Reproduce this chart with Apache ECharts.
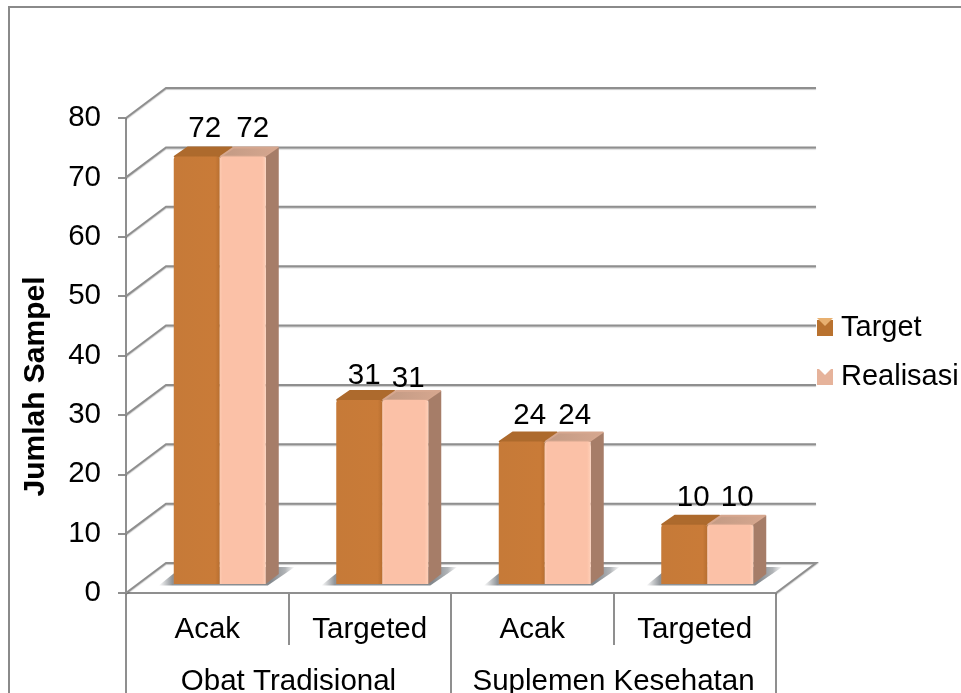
<!DOCTYPE html>
<html><head><meta charset="utf-8">
<style>html,body{margin:0;padding:0;background:#fff}#c{width:961px;height:693px}</style>
<script src="https://cdn.jsdelivr.net/npm/echarts@6/dist/echarts.min.js"></script>
</head><body><div id="c"></div>
<script>
const categories = ['Acak','Targeted','Acak','Targeted'];
const groups = ['Obat Tradisional','Suplemen Kesehatan'];
const target = [72,31,24,10];
const realisasi = [72,31,24,10];
const yTicks = [0,10,20,30,40,50,60,70,80];

const FONT = '"Liberation Sans", Arial, sans-serif';
const FS = 29.5;
const GRAY = '#8f8f8f';
const WALL = [40,-30];      // chart depth
const BAR_FRONT = [12.5,-9];  // bar front face inset from the front plane
const BAR_DEPTH = [13,-10]; // bar's own depth
const BAR_RATIO = 46/162.5;
const LABEL_SHIFT = [
  [[8,-28],[5,-24],[8,-26],[9,-27]],
  [[10,-28],[3,-21],[7,-26],[7,-27]]
];

const skins = [
 {front:[['#c67a38',0],['#c97b38',.9],['#b86f30',1]], top:'#ad6a2d', side:'#a06028'},
 {front:[['#fdcbb2',0],['#fbc1a7',.06],['#fbc1a7',.92],['#ffd0b8',1]], top:['#c29a84','#d6a78f'], side:'#a67d68'}
];
function hGrad(stops){return {type:'linear',x:0,y:0,x2:1,y2:0,colorStops:stops.map(s=>({offset:s[1],color:s[0]}))};}

function wallItem(params, api){
  const v = api.value(0);
  const g = params.coordSys;
  const y = api.coord([0,v])[1];
  const L = g.x, R = g.x+g.width;
  const style = {stroke:GRAY,lineWidth:2,fill:null,shadowColor:'rgba(0,0,0,.22)',shadowBlur:1,shadowOffsetY:1};
  const pts = [[L,y],[L+WALL[0],y+WALL[1]],[R+WALL[0],y+WALL[1]]];
  if (v===0) pts.push([R,y]);
  return {type:'polyline',shape:{points:pts},style};
}

function barItem(si){
  return function(params, api){
    const cat = api.value(0), v = api.value(1);
    const band = api.size([1,0])[0];
    const w = band*BAR_RATIO;
    const c0 = api.coord([cat,0]), c1 = api.coord([cat,v]);
    const x0 = c0[0]+BAR_FRONT[0]-w+si*w, x1 = x0+w;
    const yb = c0[1]+BAR_FRONT[1], yt = c1[1]+BAR_FRONT[1];
    const d = BAR_DEPTH, s = skins[si], ch = [];
    if (si===0){
      const sg = 'rgba(125,130,135,';
      ch.push({type:'polygon',z2:1,shape:{points:[[x0-15,yb+1.5],[x0+2*w+2,yb+1.5],[x0+2*w+d[0]+16,yb-17],[x0+8,yb-17]]},
        style:{fill:{type:'linear',x:0,y:0,x2:1,y2:0,colorStops:[
          {offset:0,color:sg+'0)'},{offset:.1,color:sg+'.85)'},{offset:.82,color:sg+'.95)'},{offset:.93,color:sg+'.6)'},{offset:1,color:sg+'0)'}]}}});
    }
    const topFill = Array.isArray(s.top)?hGrad([[s.top[0],0],[s.top[1],1]]):s.top;
    const topStroke = Array.isArray(s.top)?s.top[1]:s.top;
    ch.push({type:'polygon',z2:2,shape:{points:[[x0+1,yt],[x0+d[0]+1,yt+d[1]+1],[x1+d[0]-1,yt+d[1]+1],[x1,yt]]},
      style:{fill:topFill,stroke:topStroke,lineWidth:2,lineJoin:'round'}});
    ch.push({type:'polygon',z2:2,shape:{points:[[x1,yt],[x1+d[0],yt+d[1]+1],[x1+d[0],yb+d[1]],[x1,yb]]},style:{fill:s.side}});
    ch.push({type:'rect',z2:3,shape:{x:x0,y:yt,width:w,height:yb-yt,r:[3,3,0,0]},style:{fill:hGrad(s.front)}});
    const o = LABEL_SHIFT[si][params.dataIndex];
    ch.push({type:'text',z2:5,style:{text:String(v),x:(x0+x1)/2+o[0],y:yt+o[1],
      align:'center',verticalAlign:'middle',font:FS+'px '+FONT,fill:'#000'}});
    return {type:'group',children:ch};
  };
}

const chart = echarts.init(document.getElementById('c'),null,{renderer:'canvas'});
chart.setOption({
  animation:false,
  backgroundColor:'#fff',
  grid:{left:126,top:118,width:650,height:475,outerBoundsMode:'none'},
  legend:{
    orient:'vertical',left:817,top:311,padding:0,itemWidth:16,itemHeight:16,itemGap:15,
    textStyle:{fontFamily:FONT,fontSize:29,color:'#000',padding:[0,0,0,3],lineHeight:34},
    data:[
      {name:'Target',icon:'rect',itemStyle:{color:'#b9722f'}},
      {name:'Realisasi',icon:'rect',itemStyle:{color:'#e6b39b'}}
    ]
  },
  xAxis:[
    {type:'category',data:categories,position:'bottom',
     axisLine:{lineStyle:{color:GRAY,width:2}},
     axisTick:{show:true,length:52,lineStyle:{color:GRAY,width:2}},
     axisLabel:{margin:22,fontFamily:FONT,fontSize:FS,color:'#000',interval:0}},
    {type:'category',data:groups,position:'bottom',
     axisLine:{show:false},
     axisTick:{show:true,length:110,lineStyle:{color:GRAY,width:2}},
     axisLabel:{margin:74,fontFamily:FONT,fontSize:FS,color:'#000',interval:0}}
  ],
  yAxis:{type:'value',min:0,max:80,interval:10,
    name:'Jumlah Sampel',nameLocation:'middle',nameRotate:90,nameGap:75,
    nameTextStyle:{fontFamily:FONT,fontSize:30,fontWeight:'bold',color:'#000',padding:[0,62,0,0]},
    axisLine:{show:true,lineStyle:{color:GRAY,width:2}},
    axisTick:{show:true,length:8,lineStyle:{color:GRAY,width:2}},
    axisLabel:{margin:25,fontFamily:FONT,fontSize:FS,color:'#000',padding:[3,0,0,0]},
    splitLine:{show:false}},
  graphic:[
    {type:'polyline',silent:true,z:-1,shape:{points:[[9,693],[9,7],[961,7]]},style:{stroke:'#8a8a8a',lineWidth:2,fill:null}},
    {type:'polygon',silent:true,z:100,shape:{points:[[817,318],[833,318],[825,326]]},style:{fill:'#e8b070'}},
    {type:'polygon',silent:true,z:100,shape:{points:[[817,367],[833,367],[825,375]]},style:{fill:'#ffffff'}}
  ],
  series:[
    {name:'walls',type:'custom',coordinateSystem:'cartesian2d',z:1,silent:true,
     data:yTicks.map(v=>[v]),encode:{y:0},renderItem:wallItem},
    {name:'Target',type:'custom',coordinateSystem:'cartesian2d',z:2,silent:true,
     data:target.map((v,i)=>[i,v]),encode:{x:0,y:1},renderItem:barItem(0)},
    {name:'Realisasi',type:'custom',coordinateSystem:'cartesian2d',z:3,silent:true,
     data:realisasi.map((v,i)=>[i,v]),encode:{x:0,y:1},renderItem:barItem(1)}
  ]
});
</script></body></html>
